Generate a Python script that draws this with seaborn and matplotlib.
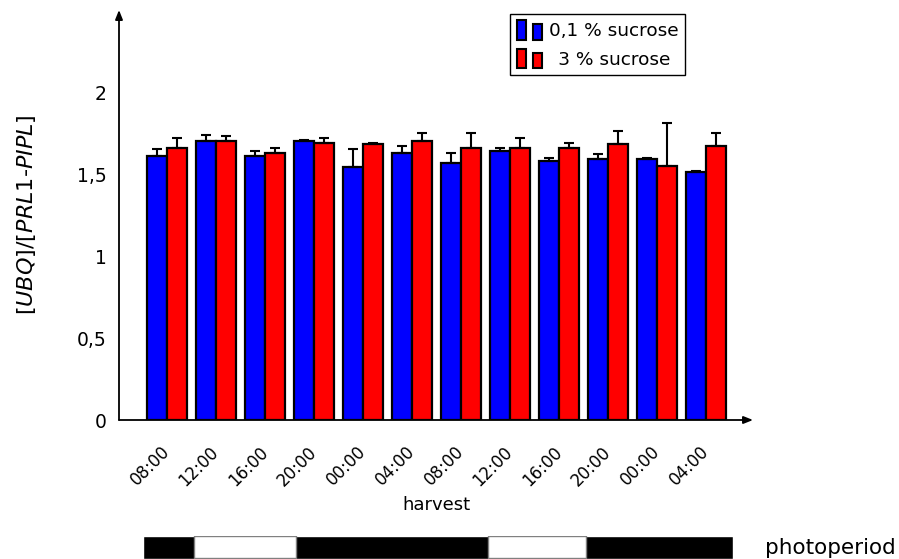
import matplotlib
matplotlib.use("Agg")
import matplotlib.pyplot as plt
import matplotlib.transforms as mtransforms
from matplotlib.patches import Rectangle, Patch
from matplotlib.legend_handler import HandlerBase
import numpy as np
import pandas as pd
import seaborn as sns

# data
harvest = ["08:00", "12:00", "16:00", "20:00", "00:00", "04:00",
           "08:00", "12:00", "16:00", "20:00", "00:00", "04:00"]
sucrose_levels = ["0,1 % sucrose", "3 % sucrose"]
low_mean = [1.61, 1.70, 1.61, 1.70, 1.54, 1.63, 1.57, 1.64, 1.58, 1.59, 1.59, 1.51]
low_err = [0.04, 0.04, 0.03, 0.01, 0.11, 0.04, 0.06, 0.02, 0.02, 0.03, 0.01, 0.01]
high_mean = [1.66, 1.70, 1.63, 1.69, 1.68, 1.70, 1.66, 1.66, 1.66, 1.68, 1.55, 1.67]
high_err = [0.06, 0.03, 0.03, 0.03, 0.01, 0.05, 0.09, 0.06, 0.03, 0.08, 0.26, 0.08]
# photoperiod, hours after the first harvest
period_window = (-2.0, 46.2)
light_periods = [(2.2, 10.5), (26.2, 34.2)]

colors = ["#0000ff", "#ff0000"]

df = pd.DataFrame({
    "slot": list(range(len(harvest))) * 2,
    "value": low_mean + high_mean,
    "sucrose": [sucrose_levels[0]] * len(harvest) + [sucrose_levels[1]] * len(harvest),
})

sns.set_style("white")
plt.rcParams["font.family"] = ["DejaVu Sans"]
plt.rcParams["mathtext.fontset"] = "dejavusans"
plt.rcParams["text.color"] = "black"
plt.rcParams["axes.labelcolor"] = "black"

fig = plt.figure(figsize=(8.99, 5.59), dpi=100)
ax = fig.add_axes([119 / 899, 1 - 420 / 559, 634 / 899, 410 / 559])

sns.barplot(data=df, x="slot", y="value", hue="sucrose", hue_order=sucrose_levels,
            palette=colors, saturation=1, edgecolor="black", linewidth=1.6,
            errorbar=None, width=0.8, legend=False, ax=ax)

# upper error bars only
for cont, errs in zip(ax.containers, [low_err, high_err]):
    xs = [b.get_x() + b.get_width() / 2 for b in cont]
    ys = [b.get_height() for b in cont]
    ax.errorbar(xs, ys, yerr=[np.zeros(len(errs)), errs], fmt="none",
                ecolor="black", elinewidth=1.5, capsize=3.6, capthick=1.5, zorder=3)

ax.set_xlim(-0.98, 11.96)
ax.set_ylim(0, 2.5)
ax.set_yticks([0, 0.5, 1, 1.5, 2])
ax.set_yticklabels(["0", "0,5", "1", "1,5", "2"], fontsize=13.5)
ax.set_xticks(range(len(harvest)))
ax.set_xticklabels(harvest, rotation=45, ha="right", va="center",
                   rotation_mode="anchor", fontsize=12)
off = mtransforms.ScaledTranslation(6 / 72, 0, fig.dpi_scale_trans)
for lab in ax.get_xticklabels():
    lab.set_transform(lab.get_transform() + off)

ax.set_axisbelow(True)
ax.tick_params(axis="x", direction="inout", length=14, width=1, color="gray",
               pad=14, labelcolor="black")
ax.tick_params(axis="y", direction="inout", length=8, width=1, color="gray",
               pad=5, labelcolor="black")
for s in ax.spines.values():
    s.set_visible(False)

arrow = dict(arrowstyle="-|>,head_length=0.55,head_width=0.22", color="black",
             lw=1.3, shrinkA=0, shrinkB=0)
ax.annotate("", xy=(1, 0), xytext=(0, 0), xycoords="axes fraction", arrowprops=arrow)
ax.annotate("", xy=(0, 1), xytext=(0, 0), xycoords="axes fraction", arrowprops=arrow)

ax.set_xlabel("harvest", fontsize=13)
ax.xaxis.set_label_coords(0.5, -0.185)
ax.set_ylabel(r"[$\mathit{UBQ}$]/[$\mathit{PRL1}$-$\mathit{PIPL}$]", fontsize=16)
ax.yaxis.set_label_coords(-0.128, 0.5)


class TwoBars(HandlerBase):
    def create_artists(self, legend, orig_handle, xdescent, ydescent,
                       width, height, fontsize, trans):
        fc = orig_handle.get_facecolor()
        w = width * 0.36
        r1 = Rectangle((-xdescent, -ydescent), w, height, facecolor=fc,
                       edgecolor="black", lw=1.5, transform=trans)
        r2 = Rectangle((-xdescent + width - w, -ydescent), w, height * 0.8,
                       facecolor=fc, edgecolor="black", lw=1.5, transform=trans)
        return [r1, r2]


handles = [Patch(facecolor=c) for c in colors]
labels = [sucrose_levels[0], "\u2002" + sucrose_levels[1]]
leg = fig.legend(handles, labels, handler_map={Patch: TwoBars()},
                 loc="upper right", bbox_to_anchor=(685 / 899, 1 - 14 / 559),
                 fontsize=13.3, handlelength=1.4, handleheight=1.25,
                 labelspacing=0.45, borderpad=0.35, handletextpad=0.35,
                 borderaxespad=0, fancybox=False, framealpha=1)
leg.get_frame().set_edgecolor("black")
leg.get_frame().set_linewidth(1)

# photoperiod strip
ax2 = fig.add_axes([119 / 899, 0, 634 / 899, 23 / 559])
ax2.set_xlim(ax.get_xlim())
ax2.set_ylim(0, 1)
ax2.axis("off")
ax2.broken_barh([(period_window[0] / 4, (period_window[1] - period_window[0]) / 4)],
                (0, 1), facecolors="black")
ax2.broken_barh([(a / 4, (b - a) / 4) for a, b in light_periods], (0.04, 0.96),
                facecolors="white", edgecolors="gray", linewidth=1)
fig.text(765 / 899, 1 - 548 / 559, "photoperiod", ha="left", va="center", fontsize=15.5)

fig.savefig("out.png", dpi=100)
